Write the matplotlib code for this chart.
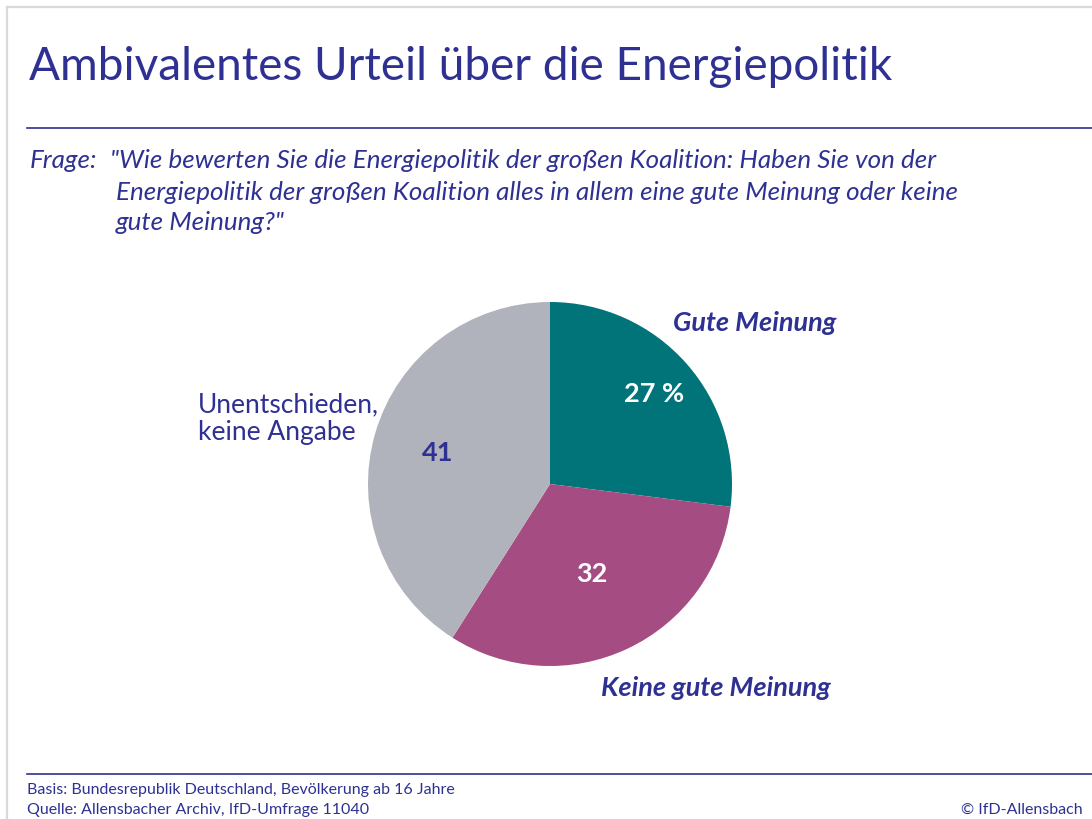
import matplotlib.pyplot as plt
from matplotlib.lines import Line2D
import numpy as np

labels = ["Gute Meinung", "Keine gute Meinung", "Unentschieden,\nkeine Angabe"]
values = [27, 32, 41]
value_texts = ["27 %", "32", "41"]
colors = ["#007479", "#A54C82", "#B1B3BC"]

navy = "#2E3192"
plt.rcParams["font.family"] = ["Lato", "DejaVu Sans"]

W, H = 1092, 820
fig = plt.figure(figsize=(W / 100, H / 100), dpi=100)

def px(x, y):
    return x / W, 1 - y / H

# page frame (top + left)
fig.add_artist(Line2D([7 / W, 1], [1 - 8 / H] * 2, color="#d9d9d9", lw=1.6))
fig.add_artist(Line2D([7 / W] * 2, [0, 1 - 8 / H], color="#d9d9d9", lw=1.6))

# title and rules
fig.text(*px(29, 67), "Ambivalentes Urteil über die Energiepolitik",
         fontsize=33, color=navy, va="center", ha="left")
fig.add_artist(Line2D([27 / W, 1], [1 - 129 / H] * 2, color=navy, lw=1.2))
fig.add_artist(Line2D([27 / W, 1], [1 - 775 / H] * 2, color=navy, lw=1.2))

q_lines = ['"Wie bewerten Sie die Energiepolitik der großen Koalition: Haben Sie von der',
           "Energiepolitik der großen Koalition alles in allem eine gute Meinung oder keine",
           'gute Meinung?"']
qs = 18.7
fig.text(*px(30, 161), "Frage:", fontsize=qs, style="italic", color=navy, va="center")
fig.text(*px(110, 161), q_lines[0], fontsize=qs, style="italic", color=navy, va="center")
fig.text(*px(116, 192), q_lines[1], fontsize=qs, style="italic", color=navy, va="center")
fig.text(*px(116, 222), q_lines[2], fontsize=qs, style="italic", color=navy, va="center")

# footer
fig.text(*px(27, 790), "Basis: Bundesrepublik Deutschland, Bevölkerung ab 16 Jahre",
         fontsize=11.5, color=navy, va="center")
fig.text(*px(27, 810), "Quelle: Allensbacher Archiv, IfD-Umfrage 11040",
         fontsize=11.5, color=navy, va="center")
fig.text(*px(1083, 810), "© IfD-Allensbach", fontsize=11.5, color=navy,
         va="center", ha="right")

# pie
cx, cy, r = 550, 485, 182
ax = fig.add_axes([(cx - r) / W, (H - cy - r) / H, 2 * r / W, 2 * r / H])
wedges, _ = ax.pie(values, colors=colors, startangle=90, counterclock=False,
                   radius=1, wedgeprops=dict(linewidth=0))
ax.set_xlim(-1, 1)
ax.set_ylim(-1, 1)
ax.set_aspect("equal")
ax.axis("off")

dists = [0.76, 0.54, 0.64]
val_colors = ["white", "white", navy]
for w, t, d, c in zip(wedges, value_texts, dists, val_colors):
    ang = np.deg2rad((w.theta1 + w.theta2) / 2)
    ax.text(d * np.cos(ang), d * np.sin(ang), t, ha="center", va="center",
            fontsize=19.5, fontweight="bold", color=c)

# category labels
fig.text(*px(755, 323), labels[0], fontsize=19.5, fontweight="bold", style="italic",
         color=navy, ha="center", va="center")
fig.text(*px(716, 688), labels[1], fontsize=19.5, fontweight="bold", style="italic",
         color=navy, ha="center", va="center")
fig.text(*px(198, 419), labels[2], fontsize=19, color=navy, ha="left", va="center",
         linespacing=1.15)

plt.savefig("out.png", dpi=100)
